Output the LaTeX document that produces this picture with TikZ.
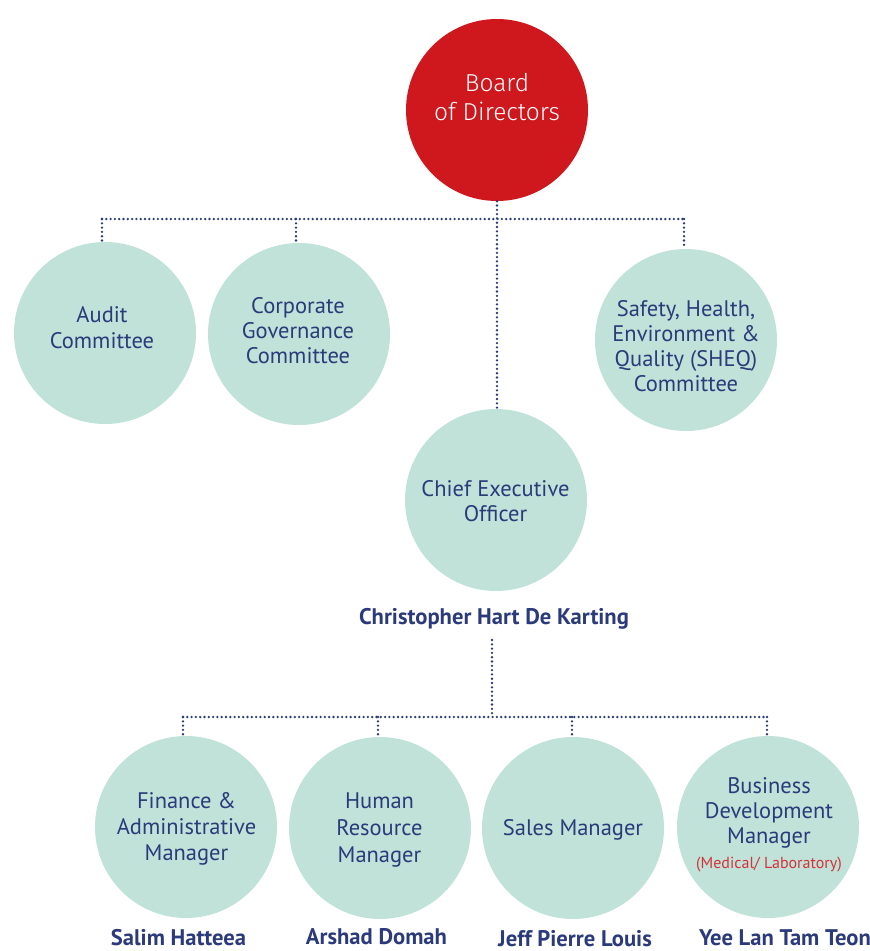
\documentclass[tikz,border=0pt]{standalone}
\usepackage{fontspec}
\setmainfont{PT Sans}
\newfontfamily\boardfont{Fira Sans Light}
\definecolor{boardred}{HTML}{CE181E}
\definecolor{mint}{HTML}{C0E2D8}
\definecolor{navy}{HTML}{2B3A7A}
\definecolor{subred}{HTML}{D2333A}
\begin{document}
\begin{tikzpicture}[x=1pt,y=-1pt,
  circ/.style={circle,fill=mint,minimum size=182pt,inner sep=0pt},
  boardc/.style={circle,fill=boardred,minimum size=182pt,inner sep=0pt},
  ctext/.style={anchor=base,inner sep=0pt,align=center,text=navy,font=\fontsize{22.5}{#1}\selectfont},
  ctext/.default=26,
  btext/.style={anchor=base,inner sep=0pt,align=center,text=white,font=\boardfont\fontsize{24.5}{28.3}\selectfont},
  namel/.style={anchor=base,text=navy,font=\bfseries\fontsize{22.6}{26}\selectfont,inner sep=0pt},
  link/.style={draw=navy,line width=2.6pt,line cap=round,dash pattern=on 0pt off 4.3pt}]
\useasboundingbox (0,0) rectangle (870,951);
% circles
\node[boardc] (board) at (497,110) {};
\node[circ] (audit) at (105,333) {};
\node[circ] (corp) at (299,334) {};
\node[circ] (sheq) at (686,340) {};
\node[circ] (ceo) at (496,500) {};
\node[circ] (fin) at (186,827) {};
\node[circ] (hr) at (380,828) {};
\node[circ] (sales) at (573,828) {};
\node[circ] (bd) at (768,827) {};
% texts (anchor base = baseline of last line)
\node[btext] (boardt) at (497,120) {Board\\of Directors};
\node[ctext=26] (auditt) at (102,348) {Audit\\Committee};
\node[ctext=25] (corpt) at (298,363) {Corporate\\Governance\\Committee};
\node[ctext=25] (sheqt) at (686,391.7) {Safety, Health,\\Environment \&\\Quality (SHEQ)\\Committee};
\node[ctext=25.7] (ceot) at (495.5,521.7) {Chief Executive\\Officer};
\node[ctext=26] (fint) at (186.5,860) {Finance \&\\Administrative\\Manager};
\node[ctext=26.8] (hrt) at (379.5,862) {Human\\Resource\\Manager};
\node[ctext] (salest) at (573,835) {Sales Manager};
\node[ctext=25] (bdt) at (769,868) {Business\\Development\\Manager\\{\color{subred}\fontsize{16}{18}\selectfont(Medical/ Laboratory)}};
% names
\node[namel] (ceoname) at (494,624.3) {Christopher Hart De Karting};
\node[namel] (n1) at (178.5,945) {Salim Hatteea};
\node[namel] (n2) at (376.5,944) {Arshad Domah};
\node[namel] (n3) at (575,946) {Jeff Pierre Louis};
\node[namel] (n4) at (785,945) {Yee Lan Tam Teon};
% top connectors
\coordinate (ja) at (102,219);
\coordinate (jc) at (296,219);
\coordinate (js) at (684,219);
\draw[link] (board.south) -- (ceo.north -| board.south);
\draw[link] (ja) -- (js);
\draw[link] (ja) -- (ja |- audit.north);
\draw[link] (jc) -- (jc |- corp.north);
\draw[link] (js) -- (js |- sheq.north);
% bottom connectors
\coordinate (jb) at (492,717);
\coordinate (jf) at (183,717);
\coordinate (jh) at (378,717);
\coordinate (jsl) at (572,717);
\coordinate (jd) at (767,717);
\draw[link] (492,640) -- (jb);
\draw[link] (jf) -- (jd);
\draw[link] (jf) -- (jf |- fin.north);
\draw[link] (jh) -- (jh |- hr.north);
\draw[link] (jsl) -- (jsl |- sales.north);
\draw[link] (jd) -- (jd |- bd.north);
\end{tikzpicture}
\end{document}
